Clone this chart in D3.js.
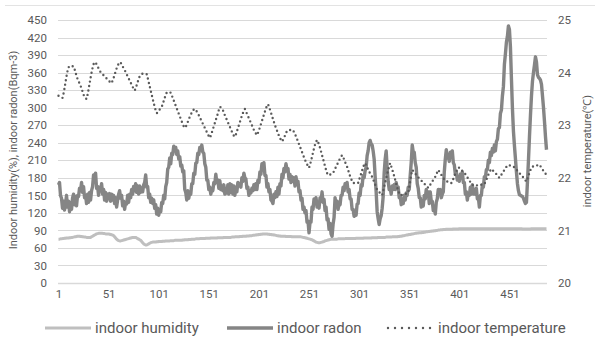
<!DOCTYPE html>
<html>
<head>
<meta charset="utf-8">
<script src="https://cdn.jsdelivr.net/npm/d3@7"></script>
<style>
body { margin: 0; background: #fff; }
text { font-family: Roboto, "Open Sans", sans-serif; fill: #595959; }
</style>
</head>
<body>
<script>
//Data
var humidity = [
75,75,75.5,75.5,76,76,76.5,76.5,77,77,
77,77.5,77.5,78,78,78.5,79,79,79.5,80,
80,80,79.5,79.5,79,79,78.5,78.5,78,78,
78,78,78,79,80,81,82,83,84,84.5,
85,85,85,85,85,84.5,84.5,84,84,84,
84,83.5,83,82.5,82,81,79,77,75,73.5,
72.5,72,72,72.5,73,73.5,74,74.5,75,75.5,
76,76.5,77,77.5,78,78,78,78,77,76,
75,74,73,71,69,67,66,65,65,66,
67,68,69,69.5,70,70,70,70,70.5,70.5,
71,71,71,71,71.5,71.5,71.5,72,72,72,
72,72,72.5,72.5,72.5,72.5,73,73,73,73,
73,73,73,73,73.5,73.5,74,74,74,74,
74.5,74.5,74.5,75,75,75,75,75.5,75.5,75.5,
75.5,76,76,76,76,76,76,76.5,76.5,76.5,
76.5,76.5,77,77,77,77,77,77,77,77.5,
77.5,77.5,77.5,77.5,77.5,78,78,78,78,78,
78,78,78,78.5,78.5,78.5,79,79,79,79,
79,79.5,79.5,79.5,80,80,80,80,80.5,80.5,
80.5,81,81,81,81.5,81.5,82,82,82.5,82.5,
83,83,83.5,83.5,84,84,84,84,84,83.5,
83.5,83,83,82.5,82.5,82,82,81.5,81,81,
80.5,80.5,80,80,80,80,80,79.5,79.5,79.5,
79.5,79.5,79.5,79,79,79,79,79,79,79,
79,79,79,78.5,78,78,77.5,77,76.5,76,
75.5,75,74.5,74,73,72,71,70,69.5,69,
69,69,69.5,70,70.5,71,72,72.5,73,73.5,
74,74.5,75,75,75,75,75,75,75,75.5,
75.5,75.5,75.5,75.5,75.5,75.5,76,76,76,76,
76,76,76,76,76,76,76,76.5,76.5,76.5,
76.5,76.5,76.5,76.5,76.5,77,77,77,77,77,
77,77,77,77.5,77.5,77.5,77.5,77.5,77.5,78,
78,78,78,78,78,78,78,78.5,78.5,78.5,
78.5,78.5,78.5,79,79,79,79,79,79,79.5,
79.5,80,80,80.5,81,81,81.5,82,82,82.5,
83,83,83.5,84,84,84.5,85,85,85.5,85.5,
86,86,86,86.5,86.5,87,87,87.5,87.5,88,
88,88.5,88.5,89,89,89.5,89.5,90,90,90.5,
90.5,91,91,91,91.5,91.5,91.5,92,92,92,
92,92,92,92,92.5,92.5,92.5,92.5,92.5,92.5,
93,93,93,93,93,93,93,93,93,93,
93,93,93,93,93,93,93,93,93,93,
93,93,93,93,93,93,93,93,93,93,
93,93,93,93,93,93,93,93,93,93,
93,93,93,93,93,93,93,93,93,93,
93,93,93,93,93,93,93,93,93,93,
93,93,93,92.5,92.5,92.5,92.5,92.5,92.5,92.5,
92.5,92.5,93,93,93,93,93,93,93,93,
93,93,93,93,93,93,93,93
];

var radon = [
168,172,150,145,128,140,125,135,150,130,
140,122,138,126,145,152,134,148,132,150,
148,162,158,172,155,165,146,150,136,152,
138,155,142,158,165,185,178,188,162,165,
150,164,158,170,152,160,142,155,140,152,
144,153,140,152,142,150,136,146,130,142,
152,158,145,150,132,140,126,138,135,150,
138,152,146,160,152,165,158,170,155,166,
152,166,155,162,156,168,172,185,164,165,
146,152,138,145,136,142,128,134,118,128,
116,125,122,138,136,150,144,165,172,195,
198,214,204,222,220,234,228,232,220,226,
212,216,200,202,190,192,160,155,142,158,
145,155,152,170,170,188,186,205,206,222,
220,232,228,236,224,222,204,198,176,176,
160,164,152,160,158,172,170,186,172,176,
162,175,160,166,158,168,152,160,154,168,
152,170,155,168,152,166,150,164,156,172,
166,170,164,180,174,188,180,178,162,164,
150,158,154,162,158,168,160,170,160,176,
172,190,186,204,198,206,184,184,164,170,
156,160,142,140,136,152,146,156,148,164,
152,170,166,186,180,196,190,204,194,196,
178,186,172,182,174,180,166,182,170,174,
156,158,142,145,126,130,120,124,104,106,
86,104,104,130,126,144,136,146,130,138,
128,146,140,156,138,143,124,130,108,110,
92,102,84,80,100,112,146,134,140,126,
136,134,150,150,164,158,170,164,172,156,
160,144,144,126,126,114,116,116,135,136,
154,150,168,166,184,180,192,198,218,226,
240,244,238,236,226,212,182,156,122,110,
100,110,115,128,148,188,212,226,196,174,
160,164,152,166,160,168,160,172,162,164,
146,150,134,144,136,150,142,154,150,164,
160,184,206,236,224,224,206,198,170,162,
146,146,130,134,132,150,144,160,152,156,
136,156,140,140,124,130,118,138,144,160,
156,160,146,152,156,190,212,228,214,218,
208,224,220,226,206,202,186,190,176,182,
174,186,180,190,172,172,152,156,142,154,
150,164,152,168,152,160,152,162,144,146,
130,150,150,168,164,182,180,194,194,210,
206,224,218,230,224,236,226,242,246,264,
266,290,296,320,336,374,392,412,422,440,
434,404,350,299,260,235,213,190,170,158,
151,150,149,148,145,140,136,138,173,210,
250,287,320,345,360,373,387,378,356,352,
350,347,340,320,300,276,250,228
];

var temperature = [
23.56,23.55,23.54,23.53,23.52,23.6,23.7,23.82,23.93,24.03,
24.1,24.12,24.13,24.13,24.12,24.12,24.07,24.0,23.94,23.88,
23.83,23.8,23.75,23.7,23.64,23.58,23.54,23.51,23.5,23.58,
23.68,23.79,23.9,24.0,24.09,24.16,24.2,24.19,24.16,24.12,
24.08,24.04,24.01,23.99,23.97,23.95,23.93,23.91,23.89,23.87,
23.85,23.83,23.81,23.8,23.85,23.9,23.96,24.02,24.08,24.13,
24.17,24.2,24.19,24.16,24.12,24.08,24.05,24.01,23.97,23.93,
23.89,23.85,23.81,23.77,23.73,23.69,23.66,23.7,23.76,23.82,
23.88,23.93,23.96,23.97,23.98,23.98,23.98,23.97,23.97,23.9,
23.82,23.74,23.66,23.58,23.5,23.42,23.35,23.28,23.23,23.24,
23.27,23.3,23.33,23.35,23.4,23.46,23.52,23.58,23.62,23.63,
23.63,23.62,23.62,23.57,23.52,23.47,23.42,23.37,23.32,23.27,
23.22,23.17,23.12,23.07,23.02,22.98,22.95,22.97,23.01,23.06,
23.11,23.16,23.2,23.24,23.27,23.3,23.31,23.29,23.26,23.23,
23.19,23.15,23.11,23.07,23.03,22.99,22.95,22.91,22.87,22.83,
22.79,22.76,22.8,22.86,22.92,22.98,23.04,23.1,23.16,23.22,
23.29,23.35,23.34,23.32,23.29,23.24,23.19,23.15,23.1,23.06,
23.01,22.97,22.92,22.88,22.84,22.8,22.78,22.82,22.88,22.94,
23.0,23.06,23.12,23.18,23.23,23.28,23.31,23.27,23.22,23.18,
23.13,23.09,23.04,23.0,22.95,22.91,22.87,22.84,22.81,22.85,
22.9,22.96,23.02,23.08,23.14,23.2,23.26,23.32,23.37,23.4,
23.36,23.3,23.24,23.18,23.12,23.06,23.0,22.95,22.9,22.85,
22.8,22.76,22.72,22.69,22.72,22.76,22.8,22.85,22.89,22.9,
22.91,22.91,22.91,22.91,22.91,22.87,22.83,22.79,22.74,22.69,
22.64,22.59,22.54,22.49,22.44,22.39,22.34,22.3,22.26,22.22,
22.19,22.25,22.32,22.4,22.48,22.56,22.63,22.68,22.72,22.68,
22.63,22.57,22.5,22.43,22.36,22.29,22.22,22.15,22.09,22.05,
22.05,22.06,22.07,22.08,22.09,22.13,22.17,22.21,22.25,22.29,
22.33,22.37,22.4,22.43,22.4,22.35,22.3,22.25,22.21,22.15,
22.09,22.03,21.98,21.94,21.9,21.9,21.9,21.9,21.9,21.9,
21.96,22.02,22.08,22.14,22.2,22.25,22.28,22.24,22.2,22.16,
22.12,22.08,22.05,22.02,21.97,21.92,21.87,21.82,21.77,21.75,
21.73,21.71,21.69,21.67,21.75,21.83,21.91,21.99,22.07,22.15,
22.22,22.28,22.22,22.16,22.1,22.03,21.96,21.89,21.82,21.76,
21.71,21.67,21.67,21.68,21.68,21.69,21.69,21.7,21.7,21.71,
21.82,21.94,22.06,22.15,22.13,22.11,22.08,22.06,22.03,22.01,
21.99,21.97,21.95,21.93,21.91,21.89,21.87,21.85,21.83,21.81,
21.84,21.87,21.9,21.93,21.96,21.99,22.02,22.06,22.11,22.15,
22.12,22.09,22.06,22.03,22.0,21.97,21.95,21.94,21.93,21.92,
21.91,21.9,21.9,21.94,21.98,22.03,22.08,22.12,22.16,22.2,
22.19,22.17,22.15,22.13,22.12,22.1,22.07,22.04,22.01,21.98,
21.95,21.92,21.89,21.87,21.85,21.85,21.85,21.85,21.86,21.86,
21.86,21.87,21.87,21.87,21.88,21.88,21.92,21.96,22.01,22.06,
22.1,22.14,22.17,22.15,22.13,22.11,22.09,22.07,22.05,22.02,
22.0,22.03,22.06,22.09,22.12,22.15,22.18,22.21,22.24,22.24,
22.24,22.23,22.22,22.21,22.21,22.2,22.18,22.16,22.13,22.11,
22.09,22.07,22.05,22.03,22.0,21.98,21.95,21.93,21.98,22.04,
22.1,22.15,22.2,22.21,22.22,22.22,22.23,22.23,22.24,22.24,
22.25,22.22,22.19,22.16,22.13,22.1,22.08,22.05
];

var categories = d3.range(1, humidity.length + 1);
var xTicks = [1, 51, 101, 151, 201, 251, 301, 351, 401, 451];
var leftTicks = [0, 30, 60, 90, 120, 150, 180, 210, 240, 270, 300, 330, 360, 390, 420, 450];
var rightTicks = [20, 21, 22, 23, 24, 25];
var seriesNames = ["indoor humidity", "indoor radon", "indoor temperature"];

//Define size
var W = 597, H = 341;
var plot = { left: 58, right: 547, top: 20, bottom: 283 };

var svg = d3.select("body")
    .append("svg")
    .attr("width", W)
    .attr("height", H)

//Scales
var x = d3.scalePoint()
    .domain(categories)
    .range([plot.left, plot.right])
    .padding(0.5);

var yLeft = d3.scaleLinear()
    .domain([0, 450])
    .range([plot.bottom, plot.top]);

var yRight = d3.scaleLinear()
    .domain([20, 25])
    .range([plot.bottom, plot.top]);

//chart border top
svg.append("line")
    .attr("x1", 5).attr("x2", 595)
    .attr("y1", 5.5).attr("y2", 5.5)
    .attr("stroke", "#e3e3e3")

//gridlines
svg.append("g")
    .selectAll("line")
    .data(leftTicks)
    .enter().append("line")
    .attr("x1", plot.left)
    .attr("x2", plot.right)
    .attr("y1", function (d) { return Math.round(yLeft(d)) + 0.5; })
    .attr("y2", function (d) { return Math.round(yLeft(d)) + 0.5; })
    .attr("stroke", "#d9d9d9")
    .attr("stroke-width", 1);

//axes
var fontSize = "11.5px";

var gx = svg.append("g")
    .attr("transform", "translate(0," + (plot.bottom + 4) + ")")
    .call(d3.axisBottom(x).tickValues(xTicks).tickSize(0));
gx.select(".domain").remove();
gx.selectAll("text").style("font-size", fontSize).attr("fill", "#595959");

var gl = svg.append("g")
    .attr("transform", "translate(" + (plot.left - 8) + ",0)")
    .call(d3.axisLeft(yLeft).tickValues(leftTicks).tickSize(0));
gl.select(".domain").remove();
gl.selectAll("text").style("font-size", fontSize).attr("fill", "#595959");

var gr = svg.append("g")
    .attr("transform", "translate(" + (plot.right + 8) + ",0)")
    .call(d3.axisRight(yRight).tickValues(rightTicks).tickSize(0).tickFormat(d3.format("d")));
gr.select(".domain").remove();
gr.selectAll("text").style("font-size", fontSize).attr("fill", "#595959");

//axis titles
svg.append("text")
    .attr("transform", "translate(17,150) rotate(-90)")
    .attr("text-anchor", "middle")
    .style("font-size", "11px")
    .text("Indoor humidity(%), indoor radon(Bqm-3)");

svg.append("text")
    .attr("transform", "translate(591,151) rotate(-90)")
    .attr("text-anchor", "middle")
    .style("font-size", "11px")
    .text("indoor temperature(℃)");

//lines
var lineLeft = d3.line()
    .x(function (d, i) { return x(categories[i]); })
    .y(function (d) { return yLeft(d); });

var lineRight = d3.line()
    .x(function (d, i) { return x(categories[i]); })
    .y(function (d) { return yRight(d); });

svg.append("path")
    .datum(humidity)
    .attr("fill", "none")
    .attr("stroke", "#bfbfbf")
    .attr("stroke-width", 3)
    .attr("stroke-linejoin", "round")
    .attr("d", lineLeft);

svg.append("path")
    .datum(radon)
    .attr("fill", "none")
    .attr("stroke", "#858585")
    .attr("stroke-width", 3.4)
    .attr("stroke-linejoin", "round")
    .attr("d", lineLeft);

svg.append("path")
    .datum(temperature)
    .attr("fill", "none")
    .attr("stroke", "#5a5a5a")
    .attr("stroke-width", 2.4)
    .attr("stroke-linecap", "round")
    .attr("stroke-dasharray", "0,4.5")
    .attr("d", lineRight);

//x axis line
svg.append("line")
    .attr("x1", plot.left).attr("x2", plot.right)
    .attr("y1", plot.bottom + 0.5).attr("y2", plot.bottom + 0.5)
    .attr("stroke", "#d9d9d9")
    .attr("stroke-width", 1.5);

//legend
var legendItems = [
    { name: seriesNames[0], color: "#bfbfbf", width: 3, dash: null, x: 45 },
    { name: seriesNames[1], color: "#858585", width: 3.4, dash: null, x: 227 },
    { name: seriesNames[2], color: "#5a5a5a", width: 2.4, dash: "0,7", x: 388 }
];

var legend = svg.append("g")
    .attr("class", "legend")
    .attr("transform", "translate(0,328)");

var li = legend.selectAll("g")
    .data(legendItems)
    .enter().append("g")
    .attr("transform", function (d) { return "translate(" + d.x + ",0)"; });

li.append("line")
    .attr("x1", 0).attr("x2", 46)
    .attr("y1", 0).attr("y2", 0)
    .attr("stroke", function (d) { return d.color; })
    .attr("stroke-width", function (d) { return d.width; })
    .attr("stroke-linecap", function (d) { return d.dash ? "round" : "butt"; })
    .attr("stroke-dasharray", function (d) { return d.dash; });

li.append("text")
    .attr("x", 50)
    .attr("y", 5)
    .style("font-size", "15px")
    .text(function (d) { return d.name; });
</script>
</body>
</html>
